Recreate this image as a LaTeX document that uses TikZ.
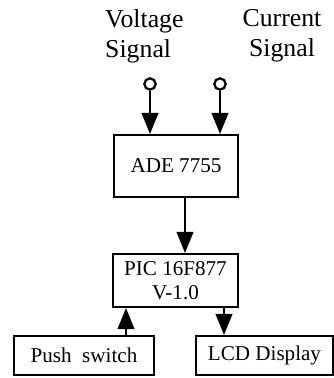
\documentclass[tikz,border=0pt]{standalone}
\usepackage{fontspec}
\setmainfont{Liberation Serif}
\usetikzlibrary{arrows.meta}

\begin{document}
\begin{tikzpicture}[x=0.3mm, y=0.3mm,
			box/.style={draw, line width=1.8pt, inner sep=0pt, font=\fontsize{18}{21}\selectfont},
			lbl/.style={inner sep=0pt, font=\fontsize{22}{25.6}\selectfont},
			pin/.style={draw, circle, line width=1.9pt, minimum size=3.4mm, inner sep=0pt},
			sigarrow/.style={-{Triangle[length=6.3mm, width=5mm]}, line width=1.7pt}]
			
			\useasboundingbox (0,0) rectangle (334,378);
			
			% Define the input labels and pins
			\node[lbl, align=left, anchor=west] (vsig) at (105, 342) {Voltage\\Signal};
			\node[lbl, align=center] (isig) at (282, 342) {Current\\Signal};
			\node[pin] (vin) at (150, 294) {};
			\node[pin] (iin) at (220, 294) {};
			
			% Define the blocks
			\node[box, minimum width=37.2mm, minimum height=18.6mm] (ade) at (176, 212) {ADE 7755};
			\node[box, minimum width=37.5mm, minimum height=15.9mm, align=center] (pic) at (175.5, 97.5) {PIC 16F877\\V-1.0};
			\node[box, minimum width=42mm, minimum height=11.7mm] (push) at (84, 22.5) {Push\ \ switch};
			\node[box, minimum width=41.1mm, minimum height=11.7mm] (lcd) at (264.5, 22.5) {LCD Display};
			
			% Draw the connections
			\draw[sigarrow] (vin) -- (vin |- ade.north);
			\draw[sigarrow] (iin) -- (iin |- ade.north);
			\draw[sigarrow] ([xshift=2.7mm]ade.south) -- ([xshift=2.7mm]ade.south |- pic.north);
			\draw[sigarrow] ([xshift=12.6mm]push.north) -- ([xshift=12.6mm]push.north |- pic.south);
			\draw[sigarrow] ([xshift=-12.15mm]lcd.north |- pic.south) -- ([xshift=-12.15mm]lcd.north);
		\end{tikzpicture}
\end{document}
